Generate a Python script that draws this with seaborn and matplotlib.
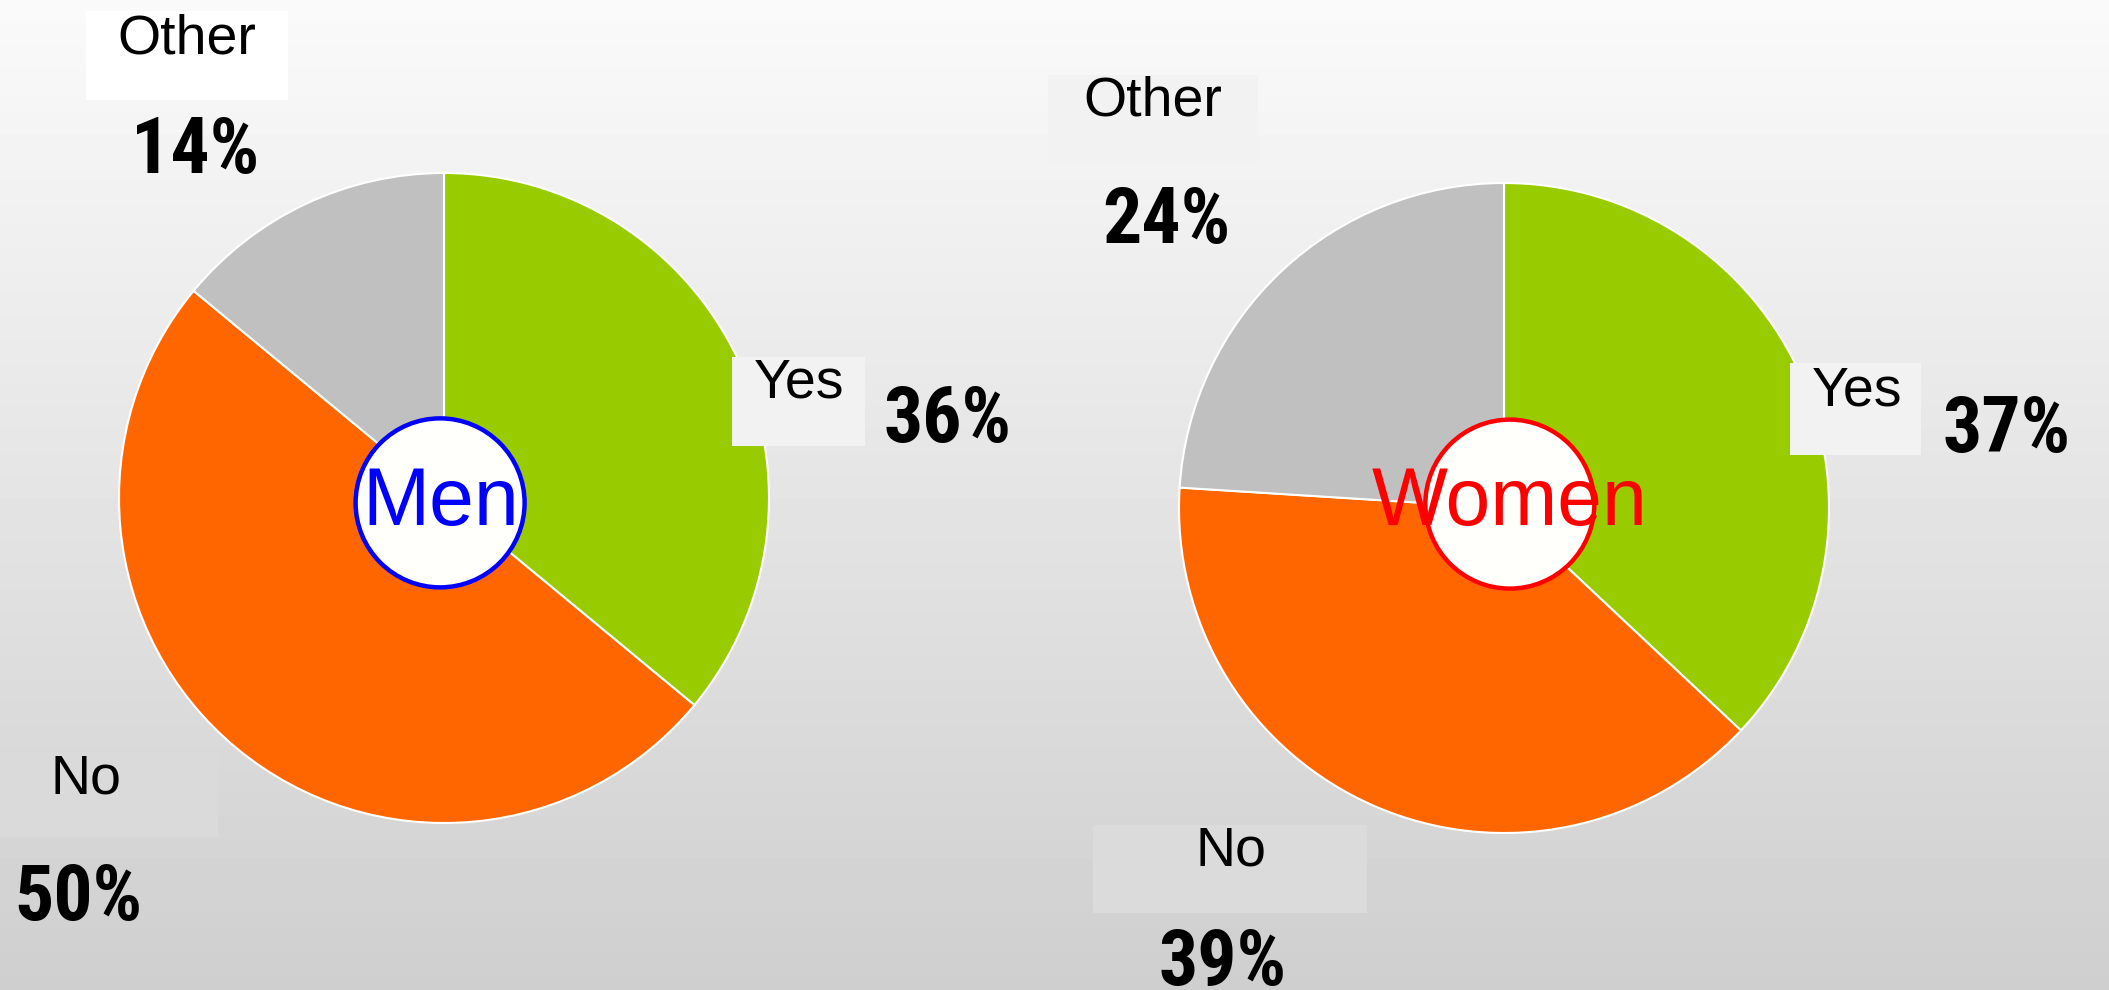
import numpy as np
import matplotlib
matplotlib.use("Agg")
import matplotlib.pyplot as plt
from matplotlib import font_manager
from matplotlib.font_manager import FontProperties
from matplotlib.patches import Rectangle, Circle
import seaborn as sns

# data
categories = ["Yes", "No", "Other"]
men_values = [36, 50, 14]
women_values = [37, 39, 24]
group_names = ["Men", "Women"]
slice_colors = ["#99CC00", "#FF6600", "#C0C0C0"]
name_colors = ["#0000FF", "#FF0000"]

sns.set_theme(style="white")
plt.rcParams["font.family"] = ["Liberation Sans", "DejaVu Sans"]

# narrow bold face for the percentages, Arial-like ones first
def is_bold(f):
    return f.weight in ("bold", 700, "700")

narrow = [f for f in font_manager.fontManager.ttflist
          if is_bold(f) and f.style == "normal"
          and ("Narrow" in f.name or "Condensed" in f.name
               or f.stretch in ("condensed", "semi-condensed"))]
prefs = ["Liberation Sans Narrow", "Arial Narrow", "Roboto Condensed",
         "Noto Sans", "Open Sans", "Lato", "DejaVu Sans"]


def rank(f):
    for k, p in enumerate(prefs):
        if f.name.startswith(p):
            return (k, f.name)
    return (len(prefs), f.name)


narrow.sort(key=rank)
if narrow:
    pct_font = FontProperties(fname=narrow[0].fname, size=56)
else:
    pct_font = FontProperties(family="Liberation Sans", weight="bold", size=48)

W, H = 2109, 990
fig = plt.figure(figsize=(W / 100, H / 100), dpi=100)


def fx(x):
    return x / W


def fy(y):
    return 1 - y / H


# background gradient
bg = fig.add_axes([0, 0, 1, 1], zorder=-5)
grad = np.linspace(0.98, 0.81, 256).reshape(-1, 1)
bg.imshow(grad, cmap="gray", vmin=0, vmax=1, aspect="auto", extent=[0, 1, 0, 1])
bg.axis("off")

# pie layout: center (px from top-left), radius px
pie_centers = [(444, 498), (1504, 508)]
R = 325
circle_offsets = [(-0.012, -0.015), (0.018, 0.012)]
name_pos = [(441, 525), (1510, 525)]

# label layout per group: (label x, baseline y, box(x0,y0,x1,y1), box color, pct x, pct baseline)
label_layout = [
    {
        "Other": (187, 53, (86, 11, 288, 100), "#FFFFFF", 195, 173),
        "Yes": (799, 397, (732, 357, 865, 446), "#F2F2F2", 948, 442),
        "No": (86, 793, (0, 753, 218, 837), "#DADADA", 78, 920),
    },
    {
        "Other": (1153, 115, (1048, 75, 1258, 163), "#F2F2F2", 1166, 243),
        "Yes": (1857, 405, (1790, 363, 1921, 455), "#F2F2F2", 2007, 452),
        "No": (1231, 865, (1093, 825, 1367, 913), "#DBDBDB", 1223, 985),
    },
]

for i, values in enumerate([men_values, women_values]):
    cx, cy = pie_centers[i]
    ax = fig.add_axes([fx(cx - R), fy(cy + R), 2 * R / W, 2 * R / H])
    ax.pie(values, colors=slice_colors, startangle=90, counterclock=False,
           wedgeprops=dict(edgecolor="white", linewidth=1.5))
    ax.set_xlim(-1, 1)
    ax.set_ylim(-1, 1)
    ax.set_aspect("equal")
    ax.axis("off")

    ox, oy = circle_offsets[i]
    ax.add_patch(Circle((ox, oy), 0.26, facecolor="#FFFFFC",
                        edgecolor=name_colors[i], linewidth=3.2, zorder=5))
    nx, ny = name_pos[i]
    fig.text(fx(nx), fy(ny), group_names[i], color=name_colors[i],
             fontsize=58, ha="center", va="baseline", zorder=6)

    for cat, val in zip(categories, values):
        lx, ly, box, bcol, px, py = label_layout[i][cat]
        x0, y0, x1, y1 = box
        fig.add_artist(Rectangle((fx(x0), fy(y1)), (x1 - x0) / W, (y1 - y0) / H,
                                 transform=fig.transFigure, facecolor=bcol,
                                 edgecolor="none", zorder=2))
        fig.text(fx(lx), fy(ly), cat, fontsize=40, ha="center", va="baseline",
                 color="black", zorder=3)
        fig.text(fx(px), fy(py), f"{val}%", fontproperties=pct_font,
                 ha="center", va="baseline", color="black", zorder=3)

fig.savefig("out.png", dpi=100)
